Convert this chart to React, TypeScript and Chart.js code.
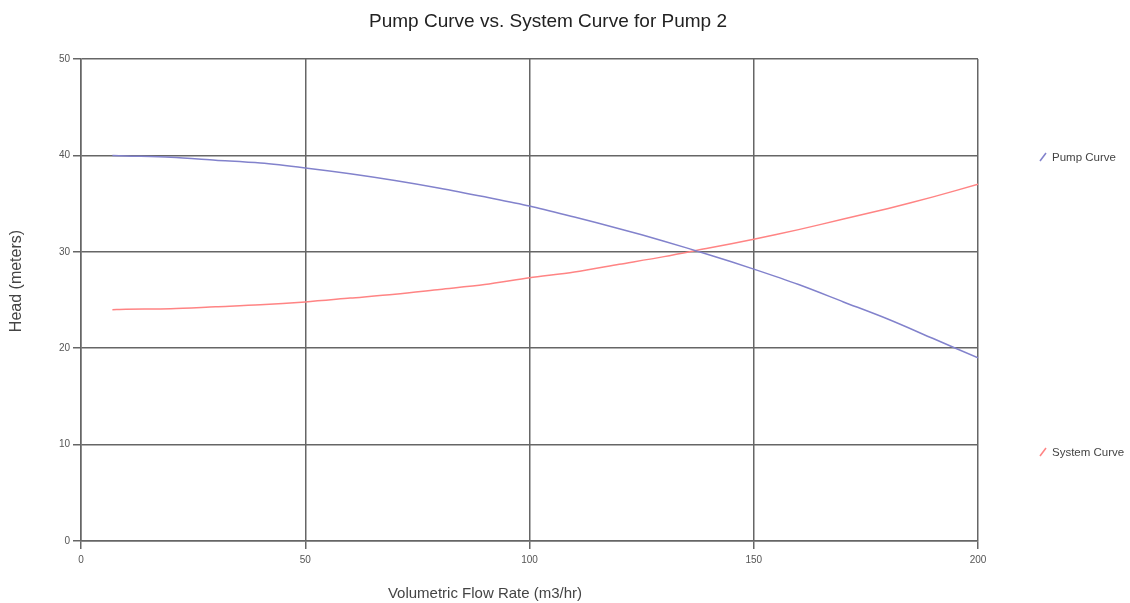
import React, { useEffect, useRef } from "react";
import { Chart, registerables } from "chart.js";

Chart.register(...registerables);

const flowRates = [7, 10, 20, 30, 40, 50, 60, 70, 80, 90, 100, 110, 120, 130, 140, 150, 160, 170, 180, 190, 200];
const pumpHead = [40.0, 39.95, 39.8, 39.5, 39.2, 38.7, 38.1, 37.4, 36.6, 35.7, 34.75, 33.6, 32.4, 31.1, 29.7, 28.2, 26.6, 24.8, 23.0, 21.0, 19.0];
const systemHead = [24.0, 24.05, 24.1, 24.3, 24.5, 24.8, 25.2, 25.6, 26.1, 26.6, 27.3, 27.9, 28.7, 29.5, 30.4, 31.3, 32.3, 33.4, 34.5, 35.7, 37.0];
const seriesNames = ["Pump Curve", "System Curve"];
const seriesColors = ["#8282cc", "#ff8484"];
const chartTitle = "Pump Curve vs. System Curve for Pump 2";
const xTitle = "Volumetric Flow Rate (m3/hr)";
const yTitle = "Head (meters)";

const FONT = "'Liberation Sans', Arial, sans-serif";

const textPlugin = {
  id: "customText",
  afterDraw(chart: any) {
    const ctx = chart.ctx;
    const area = chart.chartArea;
    ctx.save();
    ctx.fillStyle = "#222";
    ctx.textBaseline = "middle";
    ctx.textAlign = "center";
    ctx.font = `19px ${FONT}`;
    ctx.fillText(chartTitle, 548, 22);
    ctx.font = `15px ${FONT}`;
    ctx.fillStyle = "#444";
    ctx.fillText(xTitle, 485, 594);
    ctx.save();
    ctx.translate(17, 281);
    ctx.rotate(-Math.PI / 2);
    ctx.font = `16px ${FONT}`;
    ctx.fillText(yTitle, 0, 0);
    ctx.restore();
    // legend
    const legendY = [157, 452];
    ctx.font = `11.5px ${FONT}`;
    ctx.textAlign = "left";
    for (let i = 0; i < seriesNames.length; i++) {
      const y = legendY[i];
      ctx.strokeStyle = seriesColors[i];
      ctx.lineWidth = 1.5;
      ctx.beginPath();
      ctx.moveTo(area.right + 62, y + 4);
      ctx.lineTo(area.right + 68, y - 4);
      ctx.stroke();
      ctx.fillStyle = "#444";
      ctx.fillText(seriesNames[i], area.right + 74, y + 1);
    }
    ctx.restore();
  },
};

export default function App() {
  const ref = useRef<HTMLCanvasElement>(null);
  useEffect(() => {
    document.body.style.margin = "0";
    const chart = new Chart(ref.current!, {
      type: "line",
      data: {
        labels: flowRates,
        datasets: [
          {
            label: seriesNames[0],
            data: flowRates.map((x, i) => ({ x, y: pumpHead[i] })),
            borderColor: seriesColors[0],
            borderWidth: 1.5,
            pointRadius: 0,
            tension: 0.3,
            fill: false,
          },
          {
            label: seriesNames[1],
            data: flowRates.map((x, i) => ({ x, y: systemHead[i] })),
            borderColor: seriesColors[1],
            borderWidth: 1.5,
            pointRadius: 0,
            tension: 0.3,
            fill: false,
          },
        ],
      },
      options: {
        animation: false,
        responsive: false,
        layout: { padding: { left: 0, right: 152, top: 59, bottom: 0 } },
        plugins: {
          legend: { display: false },
          title: { display: false },
          tooltip: { enabled: false },
        },
        scales: {
          x: {
            type: "linear",
            min: 0,
            max: 200,
            ticks: { stepSize: 50, color: "#555", font: { size: 10, family: FONT }, padding: 5 },
            grid: { color: "#666", lineWidth: 1.5, tickLength: 8, drawOnChartArea: true },
            border: { display: true, color: "#666", width: 1.5 },
            afterFit: (s: any) => { s.height = 62; },
          },
          y: {
            min: 0,
            max: 50,
            ticks: { stepSize: 10, color: "#555", font: { size: 10, family: FONT }, padding: 3 },
            grid: { color: "#666", lineWidth: 1.5, tickLength: 8 },
            border: { display: true, color: "#666", width: 1.5 },
            afterFit: (s: any) => { s.width = 81; },
          },
        },
      },
      plugins: [textPlugin],
    });
    return () => chart.destroy();
  }, []);
  return (
    <div style={{ position: "absolute", left: 0, top: 0, width: 1130, height: 603 }}>
      <canvas ref={ref} width={1130} height={603} style={{ width: 1130, height: 603 }} />
    </div>
  );
}
